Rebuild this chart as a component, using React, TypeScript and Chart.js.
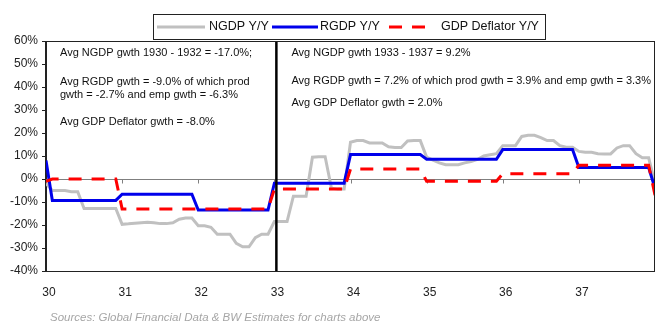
import React, { useEffect, useRef } from 'react';
import { Chart, registerables } from 'chart.js';

Chart.register(...registerables);

// Years on the x axis (19xx), monthly observations from Jan 1930 to Jan 1938
const yearTicks = [30, 31, 32, 33, 34, 35, 36, 37];
const startYear = 30;
const monthsPerYear = 12;

const ngdp = [
  -2, -5, -5, -5, -5.5, -5.5, -12.8, -12.8, -12.8, -12.8, -12.8, -12.8,
  -19.7, -19.5, -19.2, -19, -18.8, -19, -19.4, -19.4, -19, -17.5, -17, -17,
  -20.3, -20.3, -21, -24, -24, -24, -28, -29.5, -29.5, -25.5, -24, -24,
  -18.5, -18.5, -18.5, -7.5, -7.5, -7.5, 9.5, 9.7, 9.7, -4, -4.4, -4.4,
  16, 16.7, 16.7, 15.7, 15.7, 15.7, 14, 13.7, 13.7, 16.5, 16.7, 16.7,
  9.5, 8.2, 7, 6.2, 6.2, 6.2, 7, 7.6, 8.5, 10, 10.5, 11,
  14.5, 14.5, 14.5, 18.5, 19, 19, 18, 16.7, 16.7, 14.5, 13.8, 13.8,
  12, 11.6, 11.6, 11, 10.9, 10.9, 13.5, 14.5, 14.5, 11, 9.2, 9.2,
  -2,
];

const rgdp = [
  8, -9.3, -9.3, -9.3, -9.3, -9.3, -9.3, -9.3, -9.3, -9.3, -9.3, -9.3,
  -6.6, -6.6, -6.6, -6.6, -6.6, -6.6, -6.6, -6.6, -6.6, -6.6, -6.6, -6.6,
  -13.5, -13.5, -13.5, -13.5, -13.5, -13.5, -13.5, -13.5, -13.5, -13.5, -13.5, -13.5,
  -1.8, -1.8, -1.8, -1.8, -1.8, -1.8, -1.8, -1.8, -1.8, -1.8, -1.8, -1.8,
  10.6, 10.6, 10.6, 10.6, 10.6, 10.6, 10.6, 10.6, 10.6, 10.6, 10.6, 10.6,
  8.6, 8.6, 8.6, 8.6, 8.6, 8.6, 8.6, 8.6, 8.6, 8.6, 8.6, 8.6,
  12.8, 12.8, 12.8, 12.8, 12.8, 12.8, 12.8, 12.8, 12.8, 12.8, 12.8, 12.8,
  5, 5, 5, 5, 5, 5, 5, 5, 5, 5, 5, 5,
  -4,
];

const deflator = [
  -1, 0, 0, 0, 0, 0, 0, 0, 0, 0, 0, 0,
  -13, -13, -13, -13, -13, -13, -13, -13, -13, -13, -13, -13,
  -13, -13, -13, -13, -13, -13, -13, -13, -13, -13, -13, -13,
  -4.4, -4.4, -4.4, -4.4, -4.4, -4.4, -4.4, -4.4, -4.4, -4.4, -4.4, -4.4,
  4.3, 4.3, 4.3, 4.3, 4.3, 4.3, 4.3, 4.3, 4.3, 4.3, 4.3, 4.3,
  -1, -1, -1, -1, -1, -1, -1, -1, -1, -1, -1, -1,
  2.3, 2.3, 2.3, 2.3, 2.3, 2.3, 2.3, 2.3, 2.3, 2.3, 2.3, 2.3,
  6, 6, 6, 6, 6, 6, 6, 6, 6, 6, 6, 6,
  -7,
];

const seriesLabels = ['NGDP Y/Y', 'RGDP Y/Y', 'GDP Deflator Y/Y'];
const dividerYear = 33;

const leftNotes = [
  'Avg NGDP gwth 1930 - 1932 = -17.0%;',
  'Avg RGDP gwth = -9.0% of which prod',
  'gwth = -2.7% and emp gwth = -6.3%',
  'Avg GDP Deflator gwth = -8.0%',
];
const rightNotes = [
  'Avg NGDP gwth 1933 - 1937 = 9.2%',
  'Avg RGDP gwth = 7.2% of which prod gwth = 3.9% and emp gwth = 3.3%',
  'Avg GDP Deflator gwth = 2.0%',
];
const sourceNote = 'Sources: Global Financial Data & BW Estimates for charts above';

const FONT = '"Liberation Sans", Arial, sans-serif';
const GRAY = 'rgb(192,192,192)';
const BLUE = 'rgb(0,0,235)';
const RED = 'rgb(255,0,0)';
const DASH = [13, 10];

const toPoints = (arr: number[]) =>
  arr.map((v, i) => ({ x: startYear + i / monthsPerYear, y: v }));

const overlayPlugin = {
  id: 'overlay',
  beforeDatasetsDraw(chart: any) {
    const { ctx, chartArea, scales } = chart;
    const y0 = Math.round(scales.y.getPixelForValue(0)) + 0.5;
    ctx.save();
    ctx.strokeStyle = '#7f7f7f';
    ctx.lineWidth = 1;
    ctx.beginPath();
    ctx.moveTo(chartArea.left, y0);
    ctx.lineTo(chartArea.right, y0);
    for (const t of yearTicks) {
      const x = Math.round(scales.x.getPixelForValue(t)) + 0.5;
      ctx.moveTo(x, y0);
      ctx.lineTo(x, y0 + 4);
    }
    ctx.stroke();
    ctx.restore();
  },
  afterDatasetsDraw(chart: any) {
    const { ctx, chartArea, scales } = chart;
    ctx.save();
    // divider line
    const xd = scales.x.getPixelForValue(dividerYear) + 2;
    ctx.strokeStyle = '#000';
    ctx.lineWidth = 2.5;
    ctx.beginPath();
    ctx.moveTo(xd, chartArea.top);
    ctx.lineTo(xd, chartArea.bottom);
    ctx.stroke();
    // plot border
    ctx.lineWidth = 1;
    ctx.strokeStyle = '#222';
    ctx.strokeRect(
      Math.round(chartArea.left) - 0.5,
      Math.round(chartArea.top) + 0.5,
      Math.round(chartArea.right - chartArea.left),
      Math.round(chartArea.bottom - chartArea.top)
    );
    // notes
    ctx.fillStyle = '#111';
    ctx.font = '11px ' + FONT;
    ctx.textBaseline = 'middle';
    ctx.textAlign = 'left';
    const leftX = chartArea.left + 14;
    const leftYs = [53, 82, 95, 122];
    leftNotes.forEach((t, i) => ctx.fillText(t, leftX, leftYs[i]));
    const rightX = xd + 15;
    const rightYs = [53, 81, 103];
    rightNotes.forEach((t, i) => ctx.fillText(t, rightX, rightYs[i]));
    ctx.restore();
  },
  afterDraw(chart: any) {
    const { ctx } = chart;
    ctx.save();
    // legend box
    const bx = 153, by = 14, bw = 392, bh = 25;
    ctx.fillStyle = '#fff';
    ctx.fillRect(bx, by, bw, bh);
    ctx.strokeStyle = '#222';
    ctx.lineWidth = 1;
    ctx.strokeRect(bx + 0.5, by + 0.5, bw, bh);
    const ly = by + bh / 2 + 0.5;
    const items = [
      { color: GRAY, dash: [] as number[], x0: 157, x1: 205, tx: 209 },
      { color: BLUE, dash: [] as number[], x0: 272, x1: 318, tx: 320 },
      { color: RED, dash: DASH, x0: 389, x1: 432, tx: 441 },
    ];
    ctx.font = '12.5px ' + FONT;
    ctx.textBaseline = 'middle';
    items.forEach((it, i) => {
      ctx.strokeStyle = it.color;
      ctx.lineWidth = 3;
      ctx.setLineDash(it.dash);
      ctx.beginPath();
      ctx.moveTo(it.x0, ly);
      ctx.lineTo(it.x1, ly);
      ctx.stroke();
      ctx.setLineDash([]);
      ctx.fillStyle = '#111';
      ctx.fillText(seriesLabels[i], it.tx, ly);
    });
    // source
    ctx.font = 'italic 11.5px ' + FONT;
    ctx.fillStyle = '#a6a6a6';
    ctx.textAlign = 'left';
    ctx.fillText(sourceNote, 50, 318);
    ctx.restore();
  },
};

export default function App() {
  const ref = useRef<HTMLCanvasElement>(null);
  useEffect(() => {
    const chart = new Chart(ref.current as HTMLCanvasElement, {
      type: 'line',
      data: {
        datasets: [
          {
            label: seriesLabels[0],
            data: toPoints(ngdp),
            borderColor: GRAY,
            borderWidth: 3,
            pointRadius: 0,
            tension: 0,
            order: 3,
          },
          {
            label: seriesLabels[1],
            data: toPoints(rgdp),
            borderColor: BLUE,
            borderWidth: 3,
            pointRadius: 0,
            tension: 0,
            order: 2,
          },
          {
            label: seriesLabels[2],
            data: toPoints(deflator),
            borderColor: RED,
            borderWidth: 3,
            borderDash: DASH,
            pointRadius: 0,
            tension: 0,
            order: 1,
          },
        ],
      },
      options: {
        animation: false,
        responsive: false,
        devicePixelRatio: 1,
        layout: { padding: { top: 41, right: 9, bottom: 0, left: 0 } },
        plugins: {
          legend: { display: false },
          tooltip: { enabled: false },
        },
        scales: {
          x: {
            type: 'linear',
            min: 30,
            max: 38,
            afterFit: (s: any) => {
              s.height = 62;
            },
            grid: { display: false },
            border: { display: false },
            ticks: {
              stepSize: 1,
              padding: 6,
              labelOffset: 3,
              color: '#222',
              font: { family: FONT, size: 12 },
              callback: (v: any) => (yearTicks.includes(Number(v)) ? String(v) : ''),
            },
          },
          y: {
            min: -40,
            max: 60,
            afterFit: (s: any) => {
              s.width = 46;
            },
            grid: {
              drawOnChartArea: false,
              drawTicks: true,
              tickLength: 4,
              tickColor: '#222',
            },
            border: { display: true, color: '#222' },
            ticks: {
              stepSize: 10,
              padding: 4,
              color: '#222',
              font: { family: FONT, size: 12 },
              callback: (v: any) => v + '%',
            },
          },
        },
      },
      plugins: [overlayPlugin],
    } as any);
    return () => chart.destroy();
  }, []);
  return (
    <div
      style={{
        position: 'absolute',
        left: 0,
        top: 0,
        width: 664,
        height: 333,
        background: '#fff',
      }}
    >
      <canvas
        ref={ref}
        width={664}
        height={333}
        style={{ width: 664, height: 333, display: 'block' }}
      />
    </div>
  );
}
